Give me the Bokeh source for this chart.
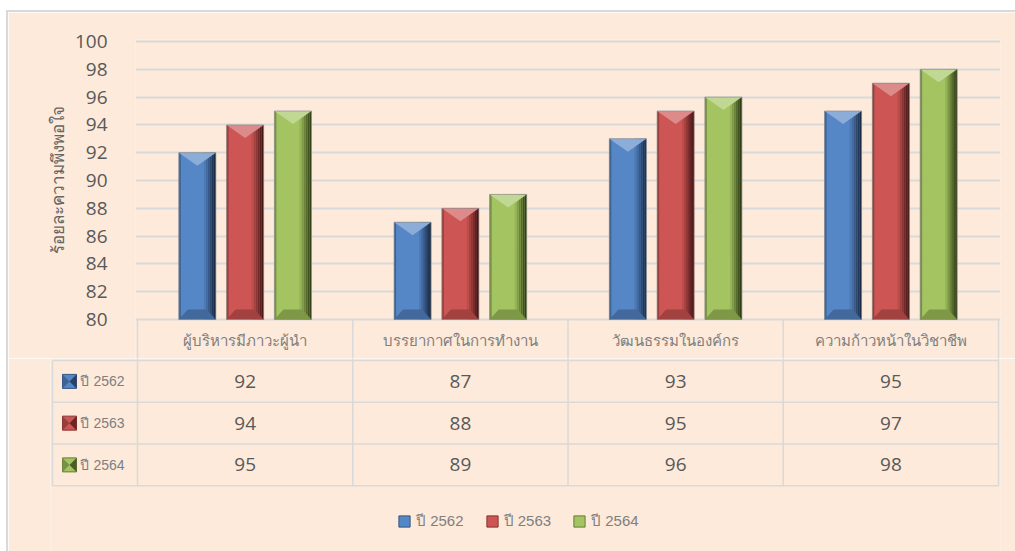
from bokeh.plotting import figure
from bokeh.layouts import column, row
from bokeh.models import ColumnDataSource, Range1d, FixedTicker, Legend, LegendItem, Spacer, Title
from bokeh.core.properties import value
from bokeh.embed import file_html
from bokeh.resources import INLINE

# ---------------- data ----------------
categories = ["ผู้บริหารมีภาวะผู้นำ", "บรรยากาศในการทำงาน", "วัฒนธรรมในองค์กร", "ความก้าวหน้าในวิชาชีพ"]
series_names = ["ปี 2562", "ปี 2563", "ปี 2564"]
v2562 = [92, 87, 93, 95]
v2563 = [94, 88, 95, 97]
v2564 = [95, 89, 96, 98]
y_ticks = [80, 82, 84, 86, 88, 90, 92, 94, 96, 98, 100]
y_label = "ร้อยละความพึงพอใจ"

series_values = [v2562, v2563, v2564]

# ---------------- style ----------------
BG = "#FDEADA"
GRID = "#D9D9D9"
TXT = "#595959"
TXT2 = "#7F7F7F"
face_colors = ["#5586C6", "#CD5553", "#A4C461"]
dark_colors = ["#14233A", "#3A1212", "#27330F"]


def hex2rgb(c):
    c = c.lstrip("#")
    return tuple(int(c[i:i + 2], 16) for i in (0, 2, 4))


def blend(c1, c2, t):
    a, b = hex2rgb(c1), hex2rgb(c2)
    return "#%02x%02x%02x" % tuple(int(round(a[i] + (b[i] - a[i]) * t)) for i in range(3))


XPX = 861 / 4.0      # px per category unit
YPX = 278 / 20.0     # px per value unit (top chart)
RPX = 41.75          # px per table row
offsets = [-0.222, 0.0, 0.222]
bar_w = 37 / XPX
base = y_ticks[0]
pad_x = 2.0 / XPX
header_h = 39.0 / YPX     # header row height in value units
n = len(categories)
nrows = len(series_names)

# ---------------- top chart (bars + header row) ----------------
p1 = figure(width=1007, height=346, x_range=Range1d(-pad_x, n + pad_x),
            y_range=Range1d(base - header_h, y_ticks[-1] + 2.0 / YPX),
            x_axis_location=None, output_backend="svg", toolbar_location=None,
            min_border_left=127, min_border_right=15, min_border_top=27, min_border_bottom=0,
            background_fill_color=BG, border_fill_color=BG, outline_line_color=None)
p1.frame_align = False
p1.xgrid.visible = False
p1.ygrid.ticker = FixedTicker(ticks=y_ticks)
p1.ygrid.grid_line_color = GRID
p1.ygrid.grid_line_width = 2
ax = p1.yaxis[0]
ax.ticker = FixedTicker(ticks=y_ticks)
ax.axis_line_color = None
ax.major_tick_line_color = None
ax.minor_tick_line_color = None
ax.major_label_text_font = "Open Sans"
ax.major_label_text_font_size = "19px"
ax.major_label_text_color = TXT
ax.major_label_standoff = 22

# value-axis title (placed along the 80..100 part of the frame)
p1.add_layout(Title(text=y_label, align="right", offset=66, vertical_align="bottom", standoff=6,
                    text_font="Noto Sans", text_font_size="17px", text_font_style="normal",
                    text_color="#666666"), "left")

for s in range(nrows):
    vals = series_values[s]
    face = face_colors[s]
    dark = dark_colors[s]
    xc = [i + 0.5 + offsets[s] for i in range(n)]
    xl = [x - bar_w / 2 for x in xc]
    xr = [x + bar_w / 2 for x in xc]
    src = ColumnDataSource(dict(x=xc, top=vals))
    p1.vbar(x="x", top="top", bottom=base, width=bar_w, source=src, fill_color=face, line_color=None)
    # left edge shade
    p1.vbar(x=[x + 1.0 / XPX for x in xl], top=vals, bottom=base, width=2.0 / XPX,
            fill_color=blend(face, dark, 0.35), line_color=None)
    # right side gradient strips
    for k, t in enumerate([0.92, 0.78, 0.62, 0.45, 0.28, 0.12]):
        p1.vbar(x=[x - (1.0 + 2.0 * k) / XPX for x in xr], top=vals, bottom=base, width=2.0 / XPX,
                fill_color=blend(face, dark, t), line_color=None)
    # bottom bevel
    bx, by = [], []
    for a, b in zip(xl, xr):
        bx.append([a, b, b - 9 / XPX, a + 9 / XPX])
        by.append([base, base, base + 10 / YPX, base + 10 / YPX])
    p1.patches(xs=bx, ys=by, fill_color=blend(face, dark, 0.3), line_color=None)
    # top bevel
    tx, ty = [], []
    for a, b, v in zip(xl, xr, vals):
        tx.append([a, b, (a + b) / 2])
        ty.append([v, v, v - 13 / YPX])
    p1.patches(xs=tx, ys=ty, fill_color=blend(face, "#FFFFFF", 0.32), line_color=None)
    p1.vbar(x="x", top="top", bottom=base, width=bar_w, source=src, fill_color=None,
            line_color="#8C8C8C", line_alpha=0.7, line_width=1)

# header row of the data table
p1.segment(x0=[float(i) for i in range(n + 1)], y0=[base - header_h] * (n + 1),
           x1=[float(i) for i in range(n + 1)], y1=[base] * (n + 1), line_color=GRID, line_width=1.5)
p1.text(x=[i + 0.5 for i in range(n)], y=[base - 20.5 / YPX] * n, text=categories, text_align="center",
        text_baseline="middle", text_font=value("Noto Sans"), text_font_size="15px", text_color=TXT2)

# ---------------- data table rows + legend ----------------
left_w = 0.395
p2 = figure(width=1007, height=193, x_range=Range1d(-left_w - pad_x, n + pad_x),
            y_range=Range1d(191.0 / RPX, -2.0 / RPX),
            x_axis_location=None, y_axis_location=None, output_backend="svg", toolbar_location=None,
            min_border_left=42, min_border_right=15, min_border_top=0, min_border_bottom=0,
            background_fill_color=BG, border_fill_color=BG, outline_line_color=None)
p2.frame_align = False
p2.grid.visible = False

hy = [float(r) for r in range(nrows + 1)]
p2.segment(x0=[-left_w] * (nrows + 1), y0=hy, x1=[float(n)] * (nrows + 1), y1=hy,
           line_color=GRID, line_width=1.5)
vx = [float(i) for i in range(n + 1)] + [-left_w]
p2.segment(x0=vx, y0=[-2.0 / RPX] * (n + 1) + [0.0], x1=vx, y1=[float(nrows)] * (n + 2),
           line_color=GRID, line_width=1.5)

for s in range(nrows):
    vals = series_values[s]
    p2.text(x=[i + 0.5 for i in range(n)], y=[s + 0.5] * n, text=[str(v) for v in vals],
            text_align="center", text_baseline="middle", text_font=value("Open Sans"),
            text_font_size="19px", text_color=TXT)

key_renderers = []
kx = -left_w + 17 / XPX
kw = 14 / XPX
kh = 14 / RPX
for s in range(nrows):
    face = face_colors[s]
    dark = dark_colors[s]
    yc = s + 0.5
    r = p2.rect(x=[kx], y=[yc], width=kw, height=kh, fill_color=face, line_color=blend(face, dark, 0.5),
                line_width=1)
    key_renderers.append(r)
    p2.patches(xs=[[kx - kw / 2, kx - kw / 2, kx], [kx + kw / 2, kx + kw / 2, kx]],
               ys=[[yc - kh / 2, yc + kh / 2, yc], [yc - kh / 2, yc + kh / 2, yc]],
               fill_color=[blend(face, dark, 0.35), blend(face, dark, 0.7)], line_color=None)
    p2.text(x=[-left_w + 28 / XPX], y=[yc], text=[series_names[s]], text_align="left",
            text_baseline="middle", text_font=value("Liberation Sans"), text_font_size="14px",
            text_color=TXT2)

legend = Legend(items=[LegendItem(label=series_names[s], renderers=[key_renderers[s]]) for s in range(nrows)],
                orientation="horizontal", location=(347, 18), background_fill_alpha=0,
                border_line_color=None, padding=0, margin=0, spacing=21, label_standoff=5,
                glyph_width=14, glyph_height=14, label_text_font="Liberation Sans",
                label_text_font_size="15px", label_text_color=TXT2, label_height=14)
p2.add_layout(legend)

gray = {"background-color": GRID}
layout = column(
    Spacer(width=1015, height=10),
    row(Spacer(width=6, height=541),
        Spacer(width=2, height=541, styles=gray),
        column(Spacer(width=1007, height=2, styles=gray), p1, p2, spacing=0),
        spacing=0),
    spacing=0,
)
open("out.html", "w").write(file_html(layout, INLINE))
